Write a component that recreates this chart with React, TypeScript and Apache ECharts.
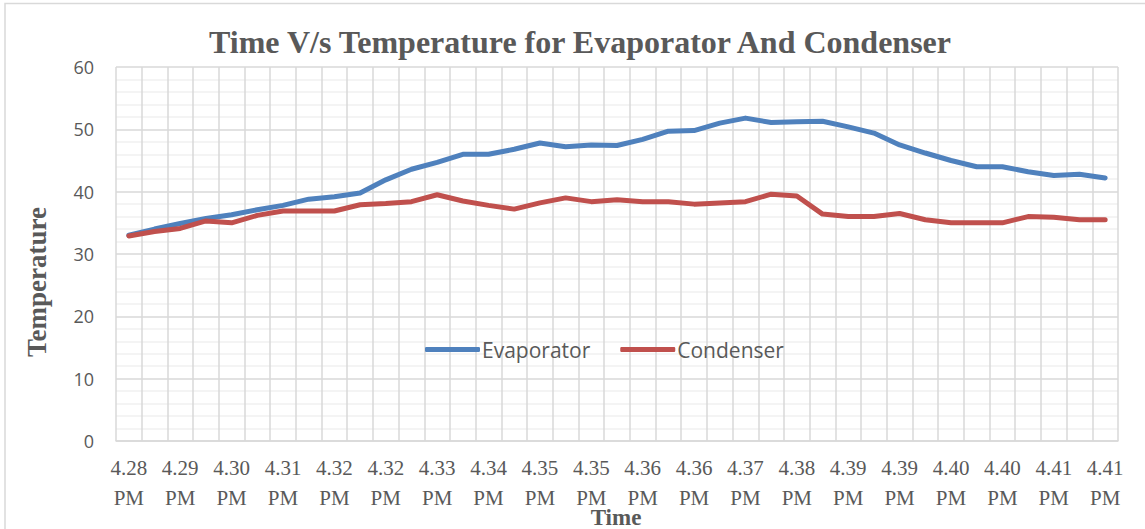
import React, { useEffect, useRef } from "react";
import * as echarts from "echarts";

const timeLabels = [
  "4.28", "4.28", "4.29", "4.29", "4.30", "4.30", "4.31", "4.31", "4.32", "4.32",
  "4.32", "4.33", "4.33", "4.33", "4.34", "4.34", "4.35", "4.35", "4.35", "4.36",
  "4.36", "4.36", "4.36", "4.37", "4.37", "4.37", "4.38", "4.38", "4.39", "4.39",
  "4.39", "4.39", "4.40", "4.40", "4.40", "4.41", "4.41", "4.41", "4.41",
];
const categories = timeLabels.map((t) => t + "\nPM");

const evaporator = [
  33.0, 34.0, 34.9, 35.7, 36.3, 37.1, 37.8, 38.8, 39.2, 39.8,
  41.9, 43.6, 44.7, 46.0, 46.0, 46.8, 47.8, 47.2, 47.5, 47.4,
  48.4, 49.7, 49.8, 51.0, 51.8, 51.1, 51.2, 51.3, 50.4, 49.4,
  47.5, 46.2, 45.0, 44.0, 44.0, 43.2, 42.6, 42.8, 42.2,
];
const condenser = [
  32.9, 33.6, 34.1, 35.3, 35.0, 36.2, 36.9, 36.9, 36.9, 37.9,
  38.1, 38.4, 39.5, 38.5, 37.8, 37.2, 38.2, 39.0, 38.4, 38.7,
  38.4, 38.4, 38.0, 38.2, 38.4, 39.6, 39.3, 36.4, 36.0, 36.0,
  36.5, 35.5, 35.0, 35.0, 35.0, 36.0, 35.9, 35.5, 35.5,
];

const xAxisTitle = "Time";
const yAxisTitle = "Temperature";

const TEXT = "#595959";
const GRID = "#d9d9d9";
const SERIF = "'Liberation Serif', 'Times New Roman', serif";
const SANS = "'Open Sans', 'Noto Sans', sans-serif";

export default function App() {
  const ref = useRef<HTMLDivElement>(null);
  useEffect(() => {
    if (!ref.current) return;
    const chart = echarts.init(ref.current, undefined, { renderer: "svg" });
    chart.setOption({
      animation: false,
      backgroundColor: "#ffffff",
      graphic: [
        {
          type: "rect",
          shape: { x: 5, y: 3.5, width: 1200, height: 600 },
          style: { fill: "none", stroke: "#d9d9d9", lineWidth: 1.5 },
          silent: true,
        },
        {
          type: "text",
          x: 616,
          y: 517,
          style: {
            text: xAxisTitle,
            textAlign: "center",
            textVerticalAlign: "middle",
            fontFamily: SERIF,
            fontWeight: "bold",
            fontSize: 23,
            fill: TEXT,
          },
        },
        {
          type: "text",
          x: 37,
          y: 282,
          rotation: Math.PI / 2,
          style: {
            text: yAxisTitle,
            textAlign: "center",
            textVerticalAlign: "middle",
            fontFamily: SERIF,
            fontWeight: "bold",
            fontSize: 27,
            fill: TEXT,
          },
        },
      ],
      title: {
        text: "Time V/s Temperature for Evaporator And Condenser",
        left: 575,
        top: 21,
        textAlign: "center",
        textStyle: {
          fontFamily: SERIF,
          fontWeight: "bold",
          fontSize: 32,
          color: TEXT,
        },
      },
      legend: {
        left: 425,
        top: 339,
        padding: 0,
        icon: "roundRect",
        itemWidth: 55,
        itemHeight: 5,
        itemGap: 30,
        textStyle: { fontFamily: SANS, fontSize: 21, color: TEXT, padding: [0, 0, 0, -3] },
        data: ["Evaporator", "Condenser"],
      },
      grid: {
        left: 116,
        right: 27,
        top: 67,
        bottom: 88,
        containLabel: false,
        outerBoundsMode: "none",
      },
      xAxis: {
        type: "category",
        data: categories,
        boundaryGap: true,
        axisLine: { show: true, lineStyle: { color: GRID, width: 1.5 } },
        axisTick: { show: false },
        axisLabel: {
          interval: 1,
          fontFamily: SERIF,
          fontSize: 21,
          lineHeight: 30,
          color: TEXT,
          margin: 12,
        },
        splitLine: { show: true, interval: 0, lineStyle: { color: GRID, width: 1.5 } },
      },
      yAxis: {
        type: "value",
        min: 0,
        max: 60,
        interval: 10,
        axisLine: { show: false },
        axisTick: { show: false },
        axisLabel: { fontFamily: SANS, fontSize: 18, color: TEXT, margin: 22 },
        splitLine: { show: true, lineStyle: { color: GRID, width: 1.5 } },
        minorTick: { show: false, splitNumber: 5 },
        minorSplitLine: { show: true, lineStyle: { color: "#f0f0f0", width: 1.5 } },
      },
      series: [
        {
          name: "Evaporator",
          type: "line",
          data: evaporator,
          symbol: "none",
          color: "#4F81BD",
          lineStyle: { width: 5, color: "#4F81BD", cap: "round", join: "round" },
        },
        {
          name: "Condenser",
          type: "line",
          data: condenser,
          symbol: "none",
          color: "#C0504D",
          lineStyle: { width: 5, color: "#C0504D", cap: "round", join: "round" },
        },
      ],
    });
    return () => chart.dispose();
  }, []);
  return (
    <div
      ref={ref}
      style={{ position: "fixed", left: 0, top: 0, width: 1145, height: 529 }}
    />
  );
}
